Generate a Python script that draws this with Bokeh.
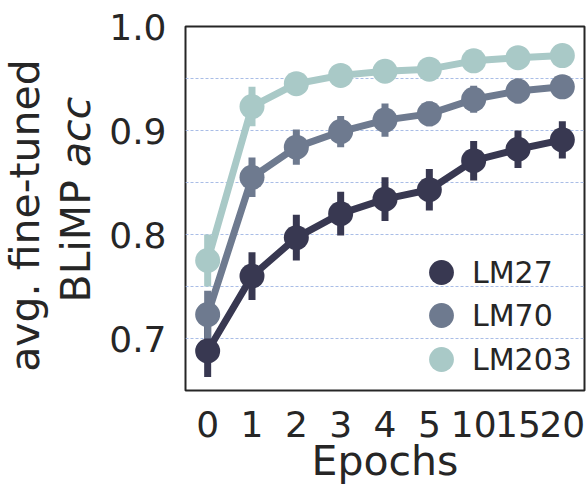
import math
from bokeh.plotting import figure
from bokeh.layouts import row
from bokeh.models import (FactorRange, Range1d, FixedTicker, Legend,
                          LegendItem, ColumnDataSource, PrintfTickFormatter)
from bokeh.core.properties import value
from bokeh.embed import file_html
from bokeh.resources import INLINE

# ---------------- data ----------------
epochs = ["0", "1", "2", "3", "4", "5", "10", "15", "20"]
series_names = ["LM27", "LM70", "LM203"]
lm27 = [0.688, 0.760, 0.797, 0.820, 0.834, 0.843, 0.871, 0.882, 0.891]
lm27_err = [0.025, 0.023, 0.022, 0.021, 0.021, 0.020, 0.019, 0.018, 0.018]
lm70 = [0.723, 0.855, 0.884, 0.899, 0.910, 0.916, 0.930, 0.938, 0.942]
lm70_err = [0.023, 0.019, 0.017, 0.015, 0.016, 0.012, 0.013, 0.012, 0.011]
lm203 = [0.775, 0.923, 0.945, 0.953, 0.957, 0.959, 0.967, 0.970, 0.972]
lm203_err = [0.025, 0.019, 0.008, 0.006, 0.005, 0.005, 0.005, 0.005, 0.005]
colors = ["#383851", "#6e7a8f", "#a9c9c7"]
y_ticks = [0.7, 0.8, 0.9, 1.0]
grid_ticks = [0.7, 0.75, 0.8, 0.85, 0.9, 0.95]
y_label_line1 = "avg. fine-tuned"
y_label_line2a = "BLiMP "
y_label_line2b = "acc"
x_label = "Epochs"

FONT = "DejaVu Sans"
TXT = "#262626"
H = 489
LW = 100          # width of the y-label strip
TOP, BOTTOM = 26, 99

# ---------------- main plot ----------------
p = figure(width=587 - LW, height=H, output_backend="svg", toolbar_location=None,
           x_range=FactorRange(*epochs, range_padding=0),
           y_range=Range1d(0.65, 1.0),
           min_border_left=85, min_border_right=3,
           min_border_top=TOP, min_border_bottom=BOTTOM)
p.background_fill_color = "white"
p.border_fill_color = "white"
p.outline_line_color = TXT
p.outline_line_width = 2

p.xgrid.grid_line_color = None
p.ygrid.ticker = FixedTicker(ticks=grid_ticks)
p.ygrid.grid_line_color = "#a9bde6"
p.ygrid.grid_line_width = 1
p.ygrid.grid_line_dash = "3 2"

p.yaxis.ticker = FixedTicker(ticks=y_ticks)
p.yaxis.formatter = PrintfTickFormatter(format="%.1f")
for ax in (p.xaxis[0], p.yaxis[0]):
    ax.axis_line_color = None
    ax.major_tick_line_color = None
    ax.minor_tick_line_color = None
    ax.major_tick_out = 0
    ax.major_tick_in = 0
    ax.major_label_text_font = FONT
    ax.major_label_text_font_size = "36px"
    ax.major_label_text_color = TXT
p.yaxis.major_label_standoff = 19
p.xaxis.major_label_standoff = 20
p.xaxis.axis_label = x_label
p.xaxis.axis_label_text_font = FONT
p.xaxis.axis_label_text_font_size = "41px"
p.xaxis.axis_label_text_font_style = "normal"
p.xaxis.axis_label_text_color = TXT
p.xaxis.axis_label_standoff = -3

data = [(lm27, lm27_err), (lm70, lm70_err), (lm203, lm203_err)]
scatter_renderers = []
for name, (vals, errs), col in zip(series_names, data, colors):
    src = ColumnDataSource(dict(
        x=epochs, y=vals,
        lo=[v - e for v, e in zip(vals, errs)],
        hi=[v + e for v, e in zip(vals, errs)]))
    p.line("x", "y", source=src, line_color=col, line_width=7)
    p.segment(x0="x", y0="lo", x1="x", y1="hi", source=src,
              line_color=col, line_width=7)
    r = p.scatter("x", "y", source=src, size=25, fill_color=col,
                  line_color=col, line_width=0)
    scatter_renderers.append(r)

# legend: one entry per Legend so the entries can sit closer than the glyph box
legend_bottoms = [87, 44, 0]
for name, r, yb in zip(series_names, scatter_renderers, legend_bottoms):
    lg = Legend(items=[LegendItem(label=name, renderers=[r])], location=(225, yb))
    lg.glyph_width = 62
    lg.glyph_height = 62
    lg.padding = 0
    lg.margin = 0
    lg.border_line_color = None
    lg.background_fill_alpha = 0
    lg.label_text_font = FONT
    lg.label_text_font_size = "30px"
    lg.label_text_color = TXT
    lg.label_standoff = 0
    p.add_layout(lg)

# ---------------- y-label strip (same top/bottom borders as the main plot) ----
q = figure(width=LW, height=H, output_backend="svg", toolbar_location=None,
           x_range=Range1d(0, LW), y_range=Range1d(H - BOTTOM, TOP),
           x_axis_type=None, y_axis_type=None,
           min_border_left=0, min_border_right=0,
           min_border_top=TOP, min_border_bottom=BOTTOM)
q.outline_line_color = None
q.background_fill_color = "white"
q.border_fill_color = "white"
q.xgrid.grid_line_color = None
q.ygrid.grid_line_color = None

lab_src1 = ColumnDataSource(dict(x=[24], y=[215], t=[y_label_line1]))
lab_src2 = ColumnDataSource(dict(x=[75], y=[302], t=[y_label_line2a]))
lab_src3 = ColumnDataSource(dict(x=[75], y=[302 - 135.5], t=[y_label_line2b]))
q.text("x", "y", text="t", source=lab_src1, angle=math.pi / 2,
       text_align="center", text_baseline="alphabetic",
       text_font=value(FONT), text_font_size="41px", text_color=TXT)
q.text("x", "y", text="t", source=lab_src2, angle=math.pi / 2,
       text_align="left", text_baseline="alphabetic",
       text_font=value(FONT), text_font_size="41px", text_color=TXT)
q.text("x", "y", text="t", source=lab_src3, angle=math.pi / 2,
       text_align="left", text_baseline="alphabetic",
       text_font=value(FONT), text_font_size="41px",
       text_font_style="italic", text_color=TXT)

layout = row(q, p)
open("out.html", "w").write(file_html(layout, INLINE))
